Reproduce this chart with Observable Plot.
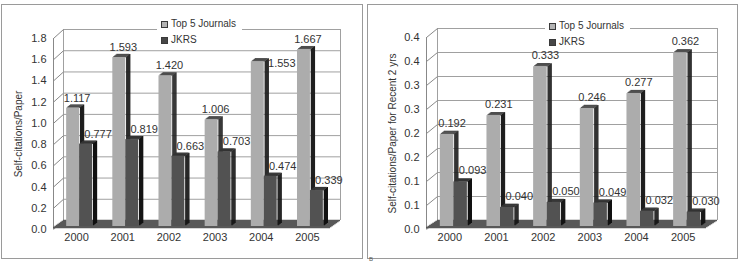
<!DOCTYPE html>
<html>
<head>
<meta charset="utf-8">
<script src="https://cdn.jsdelivr.net/npm/d3@7"></script>
<script src="https://cdn.jsdelivr.net/npm/@observablehq/plot@0.6"></script>
<style>
  body { margin: 0; width: 739px; height: 263px; overflow: hidden; position: relative; background: #fff;
         font-family: "Liberation Sans", Arial, sans-serif; color: #333; }
  .frame { position: absolute; border: 1.5px solid #9a9a9a; box-sizing: border-box; }
  .chart { position: absolute; top: 0; }
  .legend { position: absolute; background: #fff; font-size: 10px; line-height: 16px; }
  .legend div { display: flex; align-items: center; white-space: nowrap; }
  .sw { display: inline-block; width: 5px; height: 5px; border: 1px solid #3a3a3a; margin-right: 3px; }
  .tag { position: absolute; font-size: 6px; line-height: 6px; color: #555; }
</style>
</head>
<body>
<div class="frame" style="left:1px;top:4px;width:362px;height:255px"></div>
<div class="frame" style="left:367px;top:4px;width:371px;height:255px"></div>
<div id="panelA" class="chart" style="left:0px"></div>
<div id="panelB" class="chart" style="left:368px"></div>
<div class="tag" style="left:369px;top:256px">B</div>
<script>
// Publication years on the x axis
const years = ["2000", "2001", "2002", "2003", "2004", "2005"];
const seriesNames = ["Top 5 Journals", "JKRS"];

// Self-citations per paper
const top5PerPaper = [1.117, 1.593, 1.420, 1.006, 1.553, 1.667];
const jkrsPerPaper = [0.777, 0.819, 0.663, 0.703, 0.474, 0.339];

// Self-citations per paper, citing papers of the recent 2 years
const top5Recent = [0.192, 0.231, 0.333, 0.246, 0.277, 0.362];
const jkrsRecent = [0.093, 0.040, 0.050, 0.049, 0.032, 0.030];

// Y axis ticks and their printed labels
const ticksA = [0, 0.2, 0.4, 0.6, 0.8, 1.0, 1.2, 1.4, 1.6, 1.8];
const tickLabelsA = ["0.0", "0.2", "0.4", "0.6", "0.8", "1.0", "1.2", "1.4", "1.6", "1.8"];
const ticksB = [0, 0.05, 0.10, 0.15, 0.20, 0.25, 0.30, 0.35, 0.40];
const tickLabelsB = ["0.0", "0.1", "0.1", "0.2", "0.2", "0.3", "0.3", "0.4", "0.4"];

const FONT = '"Liberation Sans", Arial, sans-serif';
const palette = {
  top5: {front: "#acacac", top: "#4d4d4d", side: "#1e1e1e", swatch: "#b4b4b4"},
  jkrs: {front: "#525252", top: "#333333", side: "#111111", swatch: "#474747"},
  grid: "#a0a0a0", floor: "#585858", text: "#333"
};

// Extruded column: side face, top face, then the front face on top of them
function column(rows, x1, x2, value, colors, g) {
  const steps = d3.range(1, g.depthX + 1);
  const rise = g.depthY / g.depthX;
  return [
    ...steps.map(k => Plot.ruleX(rows, {x: x2, y1: 0, y2: value, dx: g.barDx + k, dy: g.barDy - k * rise,
      stroke: colors.side, strokeWidth: 1.3})),
    ...steps.map(k => Plot.ruleY(rows, {y: value, x1, x2, dx: g.barDx + k, dy: g.barDy - k * rise,
      stroke: colors.top, strokeWidth: 1.3})),
    Plot.rect(rows, {x1, x2, y1: 0, y2: value, dx: g.barDx, dy: g.barDy, fill: colors.front})
  ];
}

function panel(cfg) {
  const {top5, jkrs, ticks, tickLabels, title, g} = cfg;
  const rows = years.map((year, i) => ({i, year, top5: top5[i], jkrs: jkrs[i]}));
  const yMax = ticks[ticks.length - 1];
  const labelOf = new Map(ticks.map((t, i) => [t, tickLabels[i]]));
  const pxX = (g.width - g.marginLeft - g.marginRight) / years.length;
  const pxY = (g.height - g.marginTop - g.marginBottom) / yMax;
  const w = g.barWidth;
  const floorSteps = d3.range(0, 8);
  const beside = cfg.besideTop5 || [];

  return Plot.plot({
    width: g.width, height: g.height,
    marginLeft: g.marginLeft, marginRight: g.marginRight,
    marginTop: g.marginTop, marginBottom: g.marginBottom,
    style: {background: "none", fontFamily: FONT, fontSize: "11px", color: palette.text, overflow: "visible"},
    x: {domain: [-0.5, years.length - 0.5], ticks: years.map((_, i) => i), tickFormat: i => years[i],
        tickSize: 0, tickPadding: 4, label: null},
    y: {domain: [0, yMax], ticks, tickFormat: d => labelOf.get(d), tickSize: 0, tickPadding: 7, label: null},
    marks: [
      // back wall: gridlines and edges
      Plot.ruleY(ticks, {x1: -0.5, x2: years.length - 0.5, dx: g.wallDx, dy: g.wallDy, stroke: palette.grid}),
      Plot.ruleX([-0.5, years.length - 0.5], {y1: 0, y2: yMax, dx: g.wallDx, dy: g.wallDy, stroke: palette.grid}),
      // left wall: front edge and receding gridlines
      Plot.ruleX([-0.5], {y1: 0, y2: yMax, stroke: "#888"}),
      Plot.link(ticks, {x1: -0.5, y1: d => d, x2: -0.5 + g.wallDx / pxX, y2: d => d - g.wallDy / pxY,
        stroke: "#888"}),
      // floor slab
      ...floorSteps.map(k => Plot.ruleY([0], {x1: -0.5, x2: years.length - 0.5,
        dx: k * g.wallDx / (floorSteps.length - 1), dy: g.floorDy - k * (g.floorDy - g.wallDy) / (floorSteps.length - 1),
        stroke: palette.floor, strokeWidth: 1.4})),
      // columns
      ...column(rows, d => d.i - w, d => d.i, "top5", palette.top5, g),
      ...column(rows, d => d.i, d => d.i + w, "jkrs", palette.jkrs, g),
      // value labels
      Plot.text(rows.filter(d => !beside.includes(d.year)),
        {x: d => d.i - w / 2, y: "top5", text: d => d.top5.toFixed(3), dx: g.top5Dx, dy: g.labelDy,
         fontSize: 11, fill: palette.text}),
      Plot.text(rows.filter(d => beside.includes(d.year)),
        {x: d => d.i - w / 2, y: "top5", text: d => d.top5.toFixed(3), dx: 27, dy: -1,
         fontSize: 11, fill: palette.text}),
      Plot.text(rows, {x: d => d.i + w / 2, y: "jkrs", text: d => d.jkrs.toFixed(3), dx: g.jkrsDx, dy: g.labelDy,
         fontSize: 11, fill: palette.text}),
      // axis title
      Plot.text([title], {text: d => d, frameAnchor: "left", textAnchor: "middle", lineAnchor: "middle",
         rotate: -90, dx: g.titleDx, fontSize: 10, fill: palette.text})
    ]
  });
}

function legend(left, top) {
  const el = document.createElement("div");
  el.className = "legend";
  el.style.left = left + "px";
  el.style.top = top + "px";
  el.style.padding = "0 6px 0 4px";
  [palette.top5.swatch, palette.jkrs.swatch].forEach((c, i) => {
    const row = document.createElement("div");
    const sw = document.createElement("span");
    sw.className = "sw";
    sw.style.background = c;
    row.appendChild(sw);
    row.appendChild(document.createTextNode(seriesNames[i]));
    el.appendChild(row);
  });
  document.body.appendChild(el);
}

document.getElementById("panelA").appendChild(panel({
  top5: top5PerPaper, jkrs: jkrsPerPaper, ticks: ticksA, tickLabels: tickLabelsA,
  title: "Self-citations/Paper", besideTop5: ["2004"],
  g: {width: 365, height: 263, marginLeft: 53, marginRight: 35, marginTop: 38, marginBottom: 34,
      barWidth: 0.28, barDx: 3, barDy: -3, depthX: 4, depthY: 3,
      wallDx: 10, wallDy: -9, floorDy: -2,
      top5Dx: 7, jkrsDx: 15, labelDy: -13, titleDx: -35}
}));

document.getElementById("panelB").appendChild(panel({
  top5: top5Recent, jkrs: jkrsRecent, ticks: ticksB, tickLabels: tickLabelsB,
  title: "Self-citations/Paper for Recent 2 yrs",
  g: {width: 370, height: 263, marginLeft: 58, marginRight: 32, marginTop: 37, marginBottom: 34,
      barWidth: 0.29, barDx: 4, barDy: -3, depthX: 4, depthY: 3,
      wallDx: 11, wallDy: -9, floorDy: -2,
      top5Dx: 9, jkrsDx: 16, labelDy: -14, titleDx: -34}
}));

legend(157, 16);
legend(545, 18);
</script>
</body>
</html>
